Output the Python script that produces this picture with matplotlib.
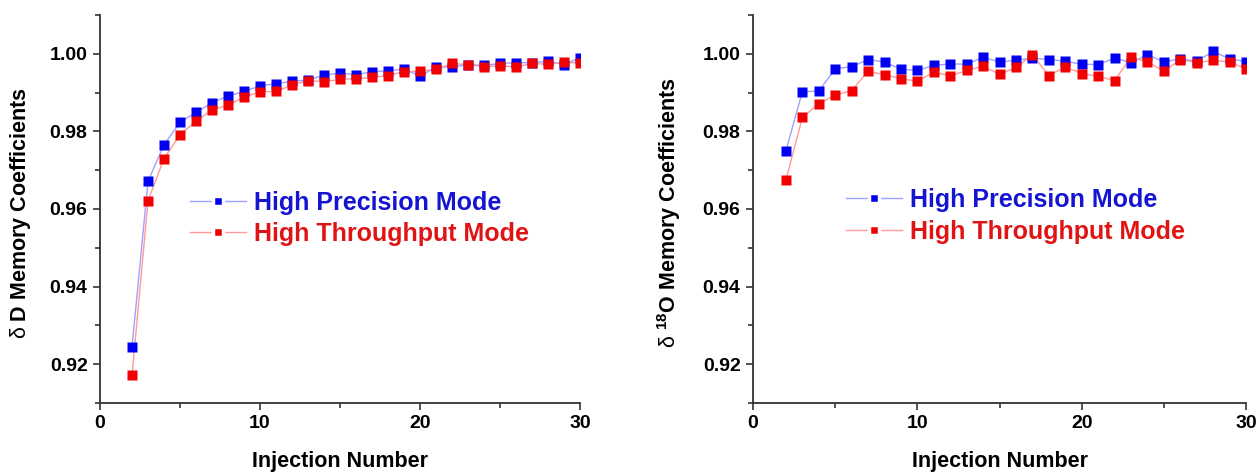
import numpy as np
from matplotlib import pyplot as plt
from matplotlib.lines import Line2D
from matplotlib.ticker import MultipleLocator

plt.rcParams['font.family'] = ['Liberation Sans', 'DejaVu Sans']
plt.rcParams['mathtext.fontset'] = 'custom'
plt.rcParams['mathtext.rm'] = 'Liberation Sans'
plt.rcParams['mathtext.bf'] = 'Liberation Sans:bold'

injection = np.arange(2, 31)

# delta D memory coefficients
d_precision = [0.9244, 0.9671, 0.9766, 0.9823, 0.9849, 0.9874, 0.9891, 0.9903,
               0.9917, 0.9923, 0.9929, 0.9932, 0.9945, 0.9950, 0.9946, 0.9954,
               0.9956, 0.9961, 0.9942, 0.9966, 0.9966, 0.9972, 0.9970, 0.9975,
               0.9977, 0.9977, 0.9981, 0.9972, 0.9990]
d_throughput = [0.9171, 0.9621, 0.9730, 0.9791, 0.9827, 0.9855, 0.9868, 0.9888,
                0.9902, 0.9903, 0.9919, 0.9931, 0.9928, 0.9934, 0.9936, 0.9939,
                0.9944, 0.9954, 0.9955, 0.9960, 0.9975, 0.9972, 0.9967, 0.9969,
                0.9966, 0.9975, 0.9973, 0.9978, 0.9976]

# delta 18O memory coefficients
o_precision = [0.9750, 0.9902, 0.9904, 0.9961, 0.9967, 0.9985, 0.9979, 0.9960,
               0.9957, 0.9970, 0.9974, 0.9973, 0.9991, 0.9979, 0.9983, 0.9989,
               0.9985, 0.9981, 0.9973, 0.9972, 0.9989, 0.9977, 0.9998, 0.9979,
               0.9987, 0.9981, 1.0006, 0.9987, 0.9980]
o_throughput = [0.9674, 0.9836, 0.9871, 0.9894, 0.9905, 0.9955, 0.9946, 0.9936,
                0.9929, 0.9953, 0.9943, 0.9957, 0.9968, 0.9947, 0.9965, 0.9997,
                0.9944, 0.9966, 0.9949, 0.9942, 0.9931, 0.9991, 0.9979, 0.9955,
                0.9985, 0.9977, 0.9983, 0.9979, 0.9961]

labels = ['High Precision Mode', 'High Throughput Mode']
marker_colors = ['#0000f0', '#f00000']
line_colors = ['#a0a0ff', '#ff9a9a']
text_colors = ['#1414d2', '#e01414']


def draw_panel(ax, precision, throughput, ylabel, label_x, legend_pos):
    for vals, mc, lc in zip([precision, throughput], marker_colors, line_colors):
        ax.plot(injection, vals, '-', color=lc, lw=1.0, zorder=2)
        ax.plot(injection, vals, 's', color=mc, ms=6.5, mec='none', zorder=3)
    ax.set_xlim(0, 30)
    ax.set_ylim(0.91, 1.01)
    ax.xaxis.set_major_locator(MultipleLocator(10))
    ax.xaxis.set_minor_locator(MultipleLocator(5))
    ax.yaxis.set_major_locator(MultipleLocator(0.02))
    ax.yaxis.set_minor_locator(MultipleLocator(0.01))
    ax.yaxis.set_major_formatter(plt.FormatStrFormatter('%.2f'))
    ax.tick_params(which='major', direction='out', length=5, width=1.2,
                   labelsize=14, pad=4, color='#333333')
    ax.tick_params(which='minor', direction='out', length=3.5, width=1.2,
                   color='#333333')
    for lab in ax.get_xticklabels() + ax.get_yticklabels():
        lab.set_fontweight('bold')
    for side in ['top', 'right']:
        ax.spines[side].set_visible(False)
    for side in ['left', 'bottom']:
        ax.spines[side].set_linewidth(1.3)
        ax.spines[side].set_color('#333333')
    ax.set_xlabel('Injection Number', fontsize=15.5, fontweight='bold',
                  va='top')
    ax.xaxis.set_label_coords(0.5, -0.124)
    ax.set_ylabel(ylabel, fontsize=15.5, fontweight='bold')
    ax.yaxis.set_label_coords(label_x, 0.49)

    handles = [Line2D([], [], color=lc, lw=1.0, marker='s', ms=7.5,
                      mfc=mc, mec='white', mew=2.5)
               for mc, lc in zip(marker_colors, line_colors)]
    leg = ax.legend(handles, labels, loc='center left',
                    bbox_to_anchor=legend_pos, frameon=False, fontsize=18,
                    handlelength=2.25, handletextpad=0.3, labelspacing=0.3,
                    borderpad=0, borderaxespad=0)
    for txt, tc in zip(leg.get_texts(), text_colors):
        txt.set_color(tc)
        txt.set_fontweight('bold')


fig = plt.figure(figsize=(12.58, 4.74), dpi=100)
ax1 = fig.add_axes([0.0795, 0.1498, 0.3816, 0.8186])
ax2 = fig.add_axes([0.5986, 0.1498, 0.3919, 0.8186])

draw_panel(ax1, d_precision, d_throughput,
           r'$\mathrm{δ}$ D Memory Coefficients', -0.14, (0.187, 0.476))
draw_panel(ax2, o_precision, o_throughput,
           r'$\mathrm{δ}$ $^{\mathbf{18}}$O Memory Coefficients', -0.142,
           (0.189, 0.482))

plt.savefig('out.png', dpi=100)
